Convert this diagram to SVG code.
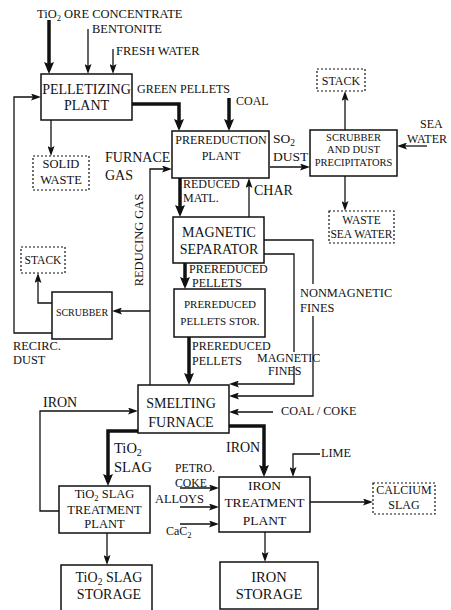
<svg xmlns="http://www.w3.org/2000/svg" width="451" height="610" viewBox="0 0 451 610" font-family="'Liberation Serif', 'DejaVu Serif', 'Times New Roman', serif">
<style>
text{font-family:'Liberation Serif','DejaVu Serif','Times New Roman',serif;fill:#111}
.box{fill:none;stroke:#111;stroke-width:1.5}
.dbox{fill:none;stroke:#111;stroke-width:1.2;stroke-dasharray:2 2}
.ln{fill:none;stroke:#111;stroke-width:1.3}
.th{fill:none;stroke:#111;stroke-width:3.5}
.c{text-anchor:middle}
</style>
<defs>
<marker id="a" markerUnits="userSpaceOnUse" viewBox="0 0 10 7" markerWidth="10" markerHeight="7" refX="7" refY="3.5" orient="auto"><path d="M0,0 L10,3.5 L0,7 L2,3.5z" fill="#111"/></marker>
<marker id="t" markerUnits="userSpaceOnUse" viewBox="0 0 12 10" markerWidth="12" markerHeight="10" refX="8" refY="5" orient="auto"><path d="M0,0 L12,5 L0,10 L2,5z" fill="#111"/></marker>
</defs>
<rect width="451" height="610" fill="#fff"/>

<g id="connectors">
<path class="th" d="M49,20 V70" marker-end="url(#t)"/>
<path class="ln" d="M88,29 V71" marker-end="url(#a)"/>
<path class="ln" d="M113,49 V71" marker-end="url(#a)"/>
<path class="ln" d="M51,120 V153" marker-end="url(#a)"/>
<path class="th" d="M132,104 H179 V127" marker-end="url(#t)"/>
<path class="th" d="M229,98 V127" marker-end="url(#t)"/>
<path class="ln" d="M270,167 H307" marker-end="url(#a)"/>
<path class="ln" d="M345,130 V94" marker-end="url(#a)"/>
<path class="ln" d="M345,176 V208" marker-end="url(#a)"/>
<path class="ln" d="M427,146 H400" marker-end="url(#a)"/>
<path class="ln" d="M150,385 V169 H169" marker-end="url(#a)"/>
<path class="ln" d="M150,311 H115" marker-end="url(#a)"/>
<path class="ln" d="M52,303 H38 V276" marker-end="url(#a)"/>
<path class="ln" d="M52,333 H14 V97 H38" marker-end="url(#a)"/>
<path class="th" d="M180,178 V213" marker-end="url(#t)"/>
<path class="ln" d="M249,217 V181" marker-end="url(#a)"/>
<path class="th" d="M185,263 V285" marker-end="url(#t)"/>
<path class="th" d="M189,337 V381" marker-end="url(#t)"/>
<path class="ln" d="M264,254 H294 V352 M294,366 V384 H232" marker-end="url(#a)"/>
<path class="ln" d="M264,240 H313 V284 M313,316 V396 H232" marker-end="url(#a)"/>
<path class="ln" d="M273,412 H232" marker-end="url(#a)"/>
<path class="ln" d="M59,511 H40 V411 H135" marker-end="url(#a)"/>
<path class="th" d="M138,431 H108 V482" marker-end="url(#t)"/>
<path class="th" d="M229,426 H264 V473" marker-end="url(#t)"/>
<path class="ln" d="M180,488 H216" marker-end="url(#a)"/>
<path class="ln" d="M180,507 H216" marker-end="url(#a)"/>
<path class="ln" d="M180,524 H216" marker-end="url(#a)"/>
<path class="ln" d="M320,454 H293 V474" marker-end="url(#a)"/>
<path class="ln" d="M310,502 H370" marker-end="url(#a)"/>
<path class="ln" d="M107,533 V562" marker-end="url(#a)"/>
<path class="ln" d="M265,532 V559" marker-end="url(#a)"/>
</g>

<g id="pelletizing-plant">
<rect class="box" x="41" y="74" width="91" height="46"/>
<text class="c" x="86.5" y="94" font-size="14">PELLETIZING</text>
<text class="c" x="86.5" y="110" font-size="14">PLANT</text>
</g>
<g id="solid-waste">
<rect class="dbox" x="33" y="156" width="56" height="34"/>
<text class="c" x="61" y="168" font-size="12.5">SOLID</text>
<text class="c" x="61" y="184" font-size="12.5">WASTE</text>
</g>
<g id="prereduction-plant">
<rect class="box" x="172" y="131" width="97" height="47"/>
<text class="c" x="221" y="144" font-size="12">PREREDUCTION</text>
<text class="c" x="221" y="160" font-size="12">PLANT</text>
</g>
<g id="scrubber-dust-precipitators">
<rect class="box" x="310" y="130" width="87" height="46"/>
<text class="c" x="353.5" y="141" font-size="10.5">SCRUBBER</text>
<text class="c" x="353.5" y="153" font-size="10.5">AND DUST</text>
<text class="c" x="353.5" y="166" font-size="10.5">PRECIPITATORS</text>
</g>
<g id="stack-top">
<rect class="dbox" x="317" y="69" width="48" height="22"/>
<text class="c" x="341" y="85" font-size="12">STACK</text>
</g>
<g id="waste-sea-water">
<rect class="dbox" x="329" y="211" width="65" height="32"/>
<text class="c" x="361.5" y="224" font-size="11.5">WASTE</text>
<text class="c" x="361.5" y="238" font-size="11.5">SEA WATER</text>
</g>
<g id="magnetic-separator">
<rect class="box" x="173" y="217" width="91" height="46"/>
<text class="c" x="219" y="237" font-size="14">MAGNETIC</text>
<text class="c" x="219" y="254" font-size="14">SEPARATOR</text>
</g>
<g id="prereduced-pellets-storage">
<rect class="box" x="174" y="289" width="91" height="48"/>
<text class="c" x="220" y="308" font-size="11">PREREDUCED</text>
<text class="c" x="220" y="325" font-size="11">PELLETS STOR.</text>
</g>
<g id="scrubber">
<rect class="box" x="52" y="292" width="60" height="47"/>
<text class="c" x="82" y="316" font-size="10">SCRUBBER</text>
</g>
<g id="stack-left">
<rect class="dbox" x="21" y="247" width="44" height="26"/>
<text class="c" x="43" y="264" font-size="11.5">STACK</text>
</g>
<g id="smelting-furnace">
<rect class="box" x="138" y="385" width="91" height="48"/>
<text class="c" x="181" y="408" font-size="14">SMELTING</text>
<text class="c" x="181" y="427" font-size="14">FURNACE</text>
</g>
<g id="tio2-slag-treatment-plant">
<rect class="box" x="59" y="486" width="91" height="47"/>
<text class="c" x="104.5" y="498" font-size="12.5">TiO<tspan font-size="8.5" dy="3">2</tspan><tspan dy="-3"> SLAG</tspan></text>
<text class="c" x="104.5" y="514" font-size="12.5">TREATMENT</text>
<text class="c" x="104.5" y="528" font-size="12.5">PLANT</text>
</g>
<g id="iron-treatment-plant">
<rect class="box" x="219" y="477" width="91" height="55"/>
<text class="c" x="264.5" y="490" font-size="13.5">IRON</text>
<text class="c" x="264.5" y="507" font-size="13.5">TREATMENT</text>
<text class="c" x="264.5" y="525" font-size="13.5">PLANT</text>
</g>
<g id="calcium-slag">
<rect class="dbox" x="373" y="483" width="62" height="31"/>
<text class="c" x="404" y="494" font-size="12">CALCIUM</text>
<text class="c" x="404" y="509" font-size="12">SLAG</text>
</g>
<g id="tio2-slag-storage">
<rect class="box" x="61" y="565" width="91" height="47"/>
<text class="c" x="109" y="582" font-size="14">TiO<tspan font-size="9.5" dy="3">2</tspan><tspan dy="-3"> SLAG</tspan></text>
<text class="c" x="109" y="599" font-size="14">STORAGE</text>
</g>
<g id="iron-storage">
<rect class="box" x="220" y="562" width="98" height="47"/>
<text class="c" x="269" y="582" font-size="14.5">IRON</text>
<text class="c" x="269" y="599" font-size="14.5">STORAGE</text>
</g>

<g id="labels">
<text x="37" y="18" font-size="12.5">TiO<tspan font-size="8.5" dy="3">2</tspan><tspan dy="-3"> ORE CONCENTRATE</tspan></text>
<text x="92" y="33" font-size="12.5">BENTONITE</text>
<text x="116" y="55" font-size="12.5">FRESH WATER</text>
<text x="137" y="93" font-size="12">GREEN PELLETS</text>
<text x="236" y="105" font-size="12">COAL</text>
<text x="273" y="143" font-size="13.5">SO<tspan font-size="9.5" dy="3">2</tspan></text>
<text x="273" y="161" font-size="13.5">DUST</text>
<text x="420" y="128" font-size="12">SEA</text>
<text x="407" y="143" font-size="12">WATER</text>
<text x="105" y="162" font-size="14">FURNACE</text>
<text x="105" y="180" font-size="14">GAS</text>
<text class="c" transform="translate(143,240) rotate(-90)" font-size="12.5">REDUCING GAS</text>
<text x="183" y="188" font-size="12">REDUCED</text>
<text x="183" y="202" font-size="12">MATL.</text>
<text x="254" y="195" font-size="14">CHAR</text>
<text x="189" y="273" font-size="12">PREREDUCED</text>
<text x="192" y="287" font-size="12">PELLETS</text>
<text x="192" y="350" font-size="12">PREREDUCED</text>
<text x="192" y="365" font-size="12">PELLETS</text>
<text x="300" y="297" font-size="12.4">NONMAGNETIC</text>
<text x="300" y="312" font-size="12.4">FINES</text>
<text x="257" y="362" font-size="12">MAGNETIC</text>
<text x="268" y="375" font-size="12">FINES</text>
<text x="13" y="350" font-size="12.4">RECIRC.</text>
<text x="13" y="364" font-size="12.4">DUST</text>
<text x="43" y="407" font-size="14">IRON</text>
<text x="114" y="453" font-size="14.5">TiO<tspan font-size="10" dy="3">2</tspan></text>
<text x="114" y="472" font-size="14.5">SLAG</text>
<text x="281" y="415" font-size="12.2">COAL / COKE</text>
<text x="226" y="452" font-size="14">IRON</text>
<text x="321" y="457" font-size="12.3">LIME</text>
<text x="175" y="472" font-size="11.7">PETRO.</text>
<text x="175" y="487" font-size="11.7">COKE</text>
<text x="155" y="503" font-size="12.4">ALLOYS</text>
<text x="166" y="535" font-size="12">CaC<tspan font-size="8.5" dy="3">2</tspan></text>
</g>
</svg>
